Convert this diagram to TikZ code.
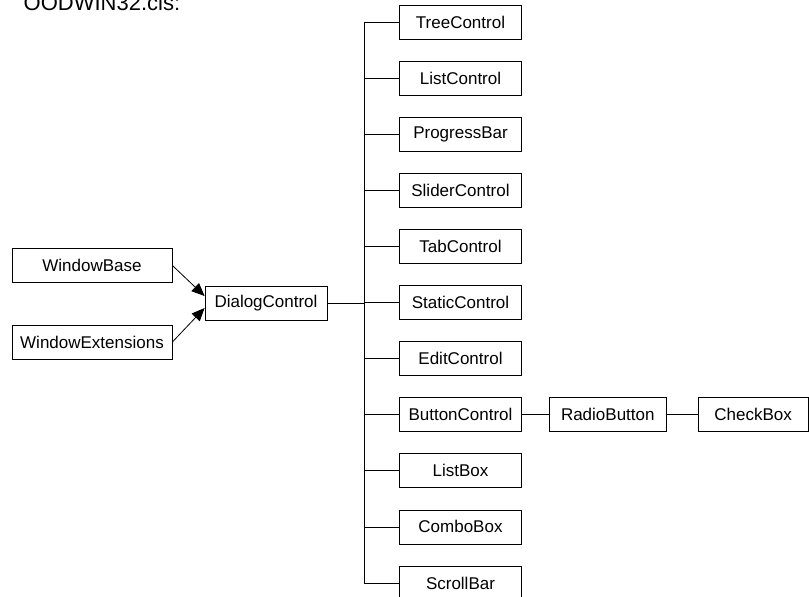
\documentclass[tikz,border=0pt]{standalone}
\usepackage{fontspec}
\setmainfont{Liberation Sans}
\usetikzlibrary{arrows.meta,positioning}

\begin{document}
\begin{tikzpicture}
  [x=1pt,y=-1pt,>={Triangle[length=13pt,width=11pt]},node distance=21.3pt,
  line width=.8pt,class/.style={rectangle,draw,minimum width=122pt,minimum height=34pt,
  inner sep=0pt,font=\fontsize{17}{20}\selectfont}]
  \useasboundingbox (0,0) rectangle (809,597);
  \node[anchor=base west,font=\fontsize{22}{26}\selectfont] (title) at (20,10) {OODWIN32.cls:};
  \node[class,minimum width=160pt] (wb) at (92,265.5) {WindowBase};
  \node[class,minimum width=160pt] (we) at (92,342) {WindowExtensions};
  \node[class] (dc) at (266,303) {DialogControl};
  \node[class] (1) at (460.5,22) {TreeControl};
  \node[class] (2) [below=of 1] {ListControl};
  \node[class] (3) [below=of 2] {ProgressBar};
  \node[class] (4) [below=of 3] {SliderControl};
  \node[class] (5) [below=of 4] {TabControl};
  \node[class] (6) [below=of 5] {StaticControl};
  \node[class] (7) [below=of 6] {EditControl};
  \node[class] (8) [below=of 7] {ButtonControl};
  \node[class] (9) [below=of 8] {ListBox};
  \node[class] (10) [below=of 9] {ComboBox};
  \node[class] (11) [below=of 10] {ScrollBar};
  \node[class,minimum width=117pt] (12) [right=27pt of 8] {RadioButton};
  \node[class,minimum width=110pt] (13) [right=31pt of 12] {CheckBox};
  \coordinate (j) at (364,303);

  \draw[->] (wb.east) -- ([yshift=7pt]dc.west);
  \draw[->] (we.east) -- ([yshift=-5pt]dc.west);
  \draw (dc) -- (j);
  \draw (j |- 1) -- (j |- 11);
  \path[draw]
  (j |- 1) edge (1)
  (j |- 2) edge (2)
  (j |- 3) edge (3)
  (j |- 4) edge (4)
  (j |- 5) edge (5)
  (j |- 6) edge (6)
  (j |- 7) edge (7)
  (j |- 8) edge (8)
  (j |- 9) edge (9)
  (j |- 10) edge (10)
  (j |- 11) edge (11)
  (8) edge (12)
  (12) edge (13);
\end{tikzpicture}
\end{document}
